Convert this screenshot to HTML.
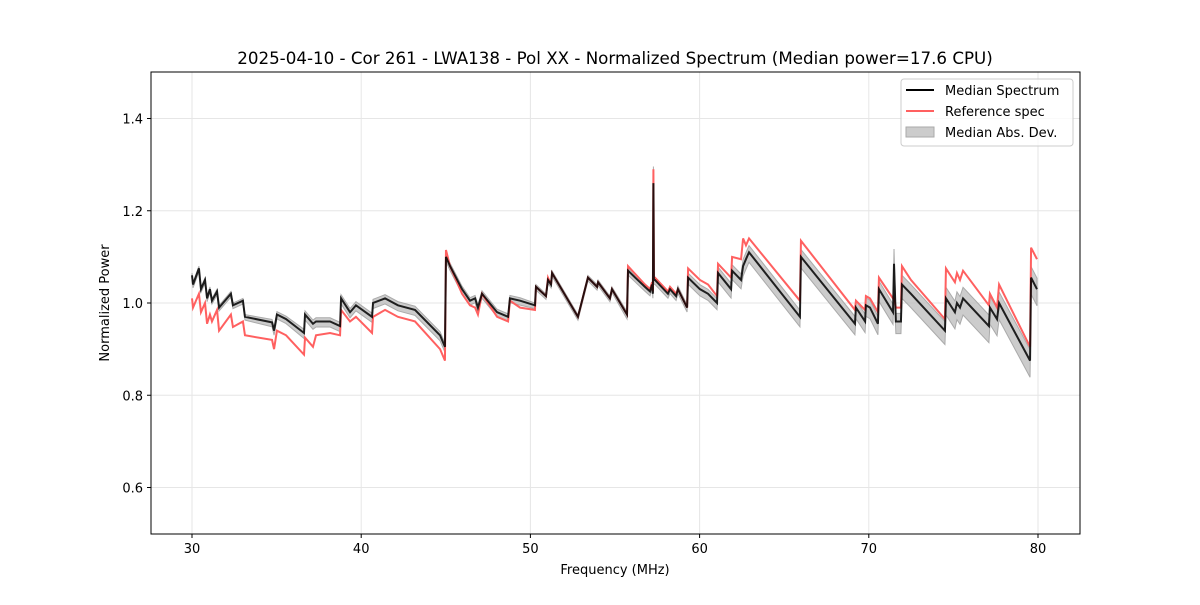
<!DOCTYPE html>
<html><head><meta charset="utf-8"><style>
body{margin:0;background:#fff;font-family:"Liberation Sans","DejaVu Sans",sans-serif}
svg text{font-family:"DejaVu Sans","Liberation Sans",sans-serif}
</style></head><body>
<svg id="chart" width="1200" height="600" xmlns="http://www.w3.org/2000/svg">
<rect width="1200" height="600" fill="#fff"/>
<g id="grid"></g><g id="band"></g><g id="lines"></g><g id="axes"></g>
<text x="615" y="64" text-anchor="middle" font-size="16.7">2025-04-10 - Cor 261 - LWA138 - Pol XX - Normalized Spectrum (Median power=17.6 CPU)</text>
<text x="615" y="574" text-anchor="middle" font-size="13">Frequency (MHz)</text>
<text transform="translate(109,303) rotate(-90)" text-anchor="middle" font-size="13">Normalized Power</text>
<g>
<rect x="901" y="79" width="172" height="67" fill="#fff" fill-opacity="0.8" stroke="#ccc" rx="3"/>
<line x1="906" y1="90" x2="934" y2="90" stroke="#000" stroke-width="2"/>
<text x="945" y="95" font-size="13">Median Spectrum</text>
<line x1="906" y1="111" x2="934" y2="111" stroke="#ff6060" stroke-width="2"/>
<text x="945" y="116" font-size="13">Reference spec</text>
<rect x="906" y="127" width="28" height="10" fill="#ccc" stroke="#aaa"/>
<text x="945" y="137" font-size="13">Median Abs. Dev.</text>
</g>
</svg>
<script>
const freqs=[30.00,30.06,30.41,30.53,30.77,30.89,31.06,31.18,31.48,31.60,32.30,32.42,33.01,33.13,34.73,34.85,35.02,35.56,36.62,36.68,37.15,37.33,38.16,38.75,38.81,39.34,39.69,40.64,40.70,41.41,42.17,43.18,44.66,44.95,45.01,45.25,45.96,46.43,46.73,46.90,47.14,48.03,48.68,48.79,49.39,50.27,50.33,50.92,51.04,51.22,51.28,52.81,53.40,53.94,54.00,54.70,54.82,55.71,55.77,56.77,57.07,57.19,57.24,57.27,57.30,57.36,58.13,58.25,58.61,58.72,59.26,59.32,60.02,60.50,61.03,61.09,61.86,61.92,62.45,62.57,62.74,62.92,65.93,65.99,69.18,69.24,69.78,69.83,70.07,70.54,70.60,71.43,71.49,71.60,71.90,71.96,72.49,74.50,74.56,75.09,75.21,75.39,75.57,77.10,77.16,77.58,77.70,79.53,79.59,79.94];
const median=[1.06,1.04,1.075,1.03,1.05,1.01,1.03,1.005,1.025,0.99,1.02,0.995,1.005,0.97,0.958,0.94,0.975,0.965,0.935,0.975,0.955,0.96,0.96,0.95,1.01,0.98,0.995,0.97,1.00,1.01,0.995,0.985,0.93,0.905,1.10,1.08,1.03,1.005,1.01,0.99,1.02,0.98,0.97,1.01,1.005,0.995,1.035,1.015,1.05,1.04,1.065,0.97,1.055,1.035,1.045,1.01,1.03,0.975,1.07,1.035,1.025,1.04,1.02,1.26,1.05,1.05,1.02,1.03,1.015,1.03,0.99,1.055,1.03,1.02,1.00,1.065,1.03,1.07,1.05,1.08,1.095,1.11,0.97,1.10,0.955,0.99,0.96,0.995,0.99,0.955,1.03,0.98,1.085,0.96,0.96,1.04,1.02,0.94,1.01,0.98,1.00,0.99,1.01,0.95,0.99,0.965,1.00,0.875,1.055,1.03];
const reference=[1.01,0.99,1.02,0.98,1.00,0.955,0.975,0.96,0.985,0.94,0.975,0.948,0.96,0.93,0.92,0.90,0.94,0.93,0.888,0.925,0.905,0.93,0.935,0.93,0.985,0.96,0.97,0.935,0.97,0.985,0.97,0.96,0.90,0.875,1.115,1.08,1.02,0.995,0.99,0.975,1.02,0.97,0.96,1.005,0.99,0.985,1.035,1.015,1.055,1.04,1.065,0.97,1.055,1.035,1.045,1.01,1.03,0.975,1.08,1.04,1.03,1.045,1.025,1.29,1.055,1.055,1.025,1.035,1.02,1.03,0.99,1.075,1.05,1.04,1.015,1.085,1.055,1.10,1.095,1.14,1.125,1.14,1.005,1.135,0.985,1.005,0.985,1.015,1.01,0.98,1.055,1.01,1.01,0.99,0.99,1.08,1.05,0.965,1.075,1.045,1.065,1.05,1.07,0.995,1.02,0.99,1.04,0.905,1.12,1.095];
const mad=[0.006,0.006,0.006,0.006,0.006,0.006,0.006,0.006,0.006,0.006,0.006,0.006,0.006,0.006,0.008,0.008,0.008,0.008,0.01,0.01,0.01,0.01,0.01,0.01,0.01,0.01,0.01,0.01,0.01,0.01,0.01,0.01,0.01,0.01,0.008,0.008,0.008,0.008,0.008,0.008,0.008,0.008,0.008,0.008,0.008,0.006,0.006,0.006,0.006,0.006,0.006,0.006,0.006,0.006,0.006,0.006,0.006,0.008,0.008,0.008,0.008,0.008,0.008,0.045,0.008,0.008,0.008,0.008,0.008,0.008,0.008,0.012,0.012,0.012,0.012,0.016,0.016,0.016,0.016,0.018,0.018,0.018,0.018,0.02,0.02,0.02,0.02,0.02,0.02,0.02,0.022,0.022,0.04,0.022,0.022,0.025,0.025,0.025,0.03,0.03,0.03,0.03,0.03,0.03,0.03,0.03,0.03,0.03,0.03,0.03];
const xTicks=[30,40,50,60,70,80];
const yTicks=[0.6,0.8,1.0,1.2,1.4];
const X0=151,X1=1080,Y0=72,Y1=534;
const xs=f=>192+(f-30)*16.92;
const ys=v=>303-(v-1)*461.25;
const NS="http://www.w3.org/2000/svg";
function mk(tag,attrs,parent){const e=document.createElementNS(NS,tag);for(const k in attrs)e.setAttribute(k,attrs[k]);parent.appendChild(e);return e;}
const grid=document.getElementById('grid'),axes=document.getElementById('axes');
xTicks.forEach(t=>{const x=xs(t);
 const g=mk('line',{x1:x,x2:x,y1:Y0,y2:Y1,stroke:'#e6e6e6','stroke-width':1},grid);
 
 
 mk('line',{x1:x,x2:x,y1:Y1,y2:Y1+4,stroke:'#000'},axes);
 const tx=mk('text',{x:x,y:Y1+19,'text-anchor':'middle','font-size':13},axes);tx.textContent=t;
 
 });
yTicks.forEach(t=>{const y=ys(t);
 const g=mk('line',{x1:X0,x2:X1,y1:y,y2:y,stroke:'#e6e6e6','stroke-width':1},grid);
 
 
 mk('line',{x1:X0-4,x2:X0,y1:y,y2:y,stroke:'#000'},axes);
 const tx=mk('text',{x:X0-8,y:y+5,'text-anchor':'end','font-size':13},axes);tx.textContent=t.toFixed(1);
 
 });
const fr=mk('rect',{x:X0,y:Y0,width:X1-X0,height:Y1-Y0,fill:'none',stroke:'#000'},axes);


let up=freqs.map((f,i)=>xs(f)+','+ys(median[i]+mad[i]*0.8));
let lo=freqs.map((f,i)=>xs(f)+','+ys(median[i]-mad[i]*1.2)).reverse();
const band=mk('polygon',{points:up.concat(lo).join(' '),fill:'#bbb','fill-opacity':0.75,stroke:'#aaa','stroke-width':1},document.getElementById('band'));


const lines=document.getElementById('lines');
const rl=mk('polyline',{points:freqs.map((f,i)=>xs(f)+','+ys(reference[i])).join(' '),fill:'none',stroke:'#ff6060','stroke-width':2},lines);


const ml=mk('polyline',{points:freqs.map((f,i)=>xs(f)+','+ys(median[i])).join(' '),fill:'none',stroke:'#000','stroke-width':2,'stroke-opacity':0.85},lines);


</script>
</body></html>
